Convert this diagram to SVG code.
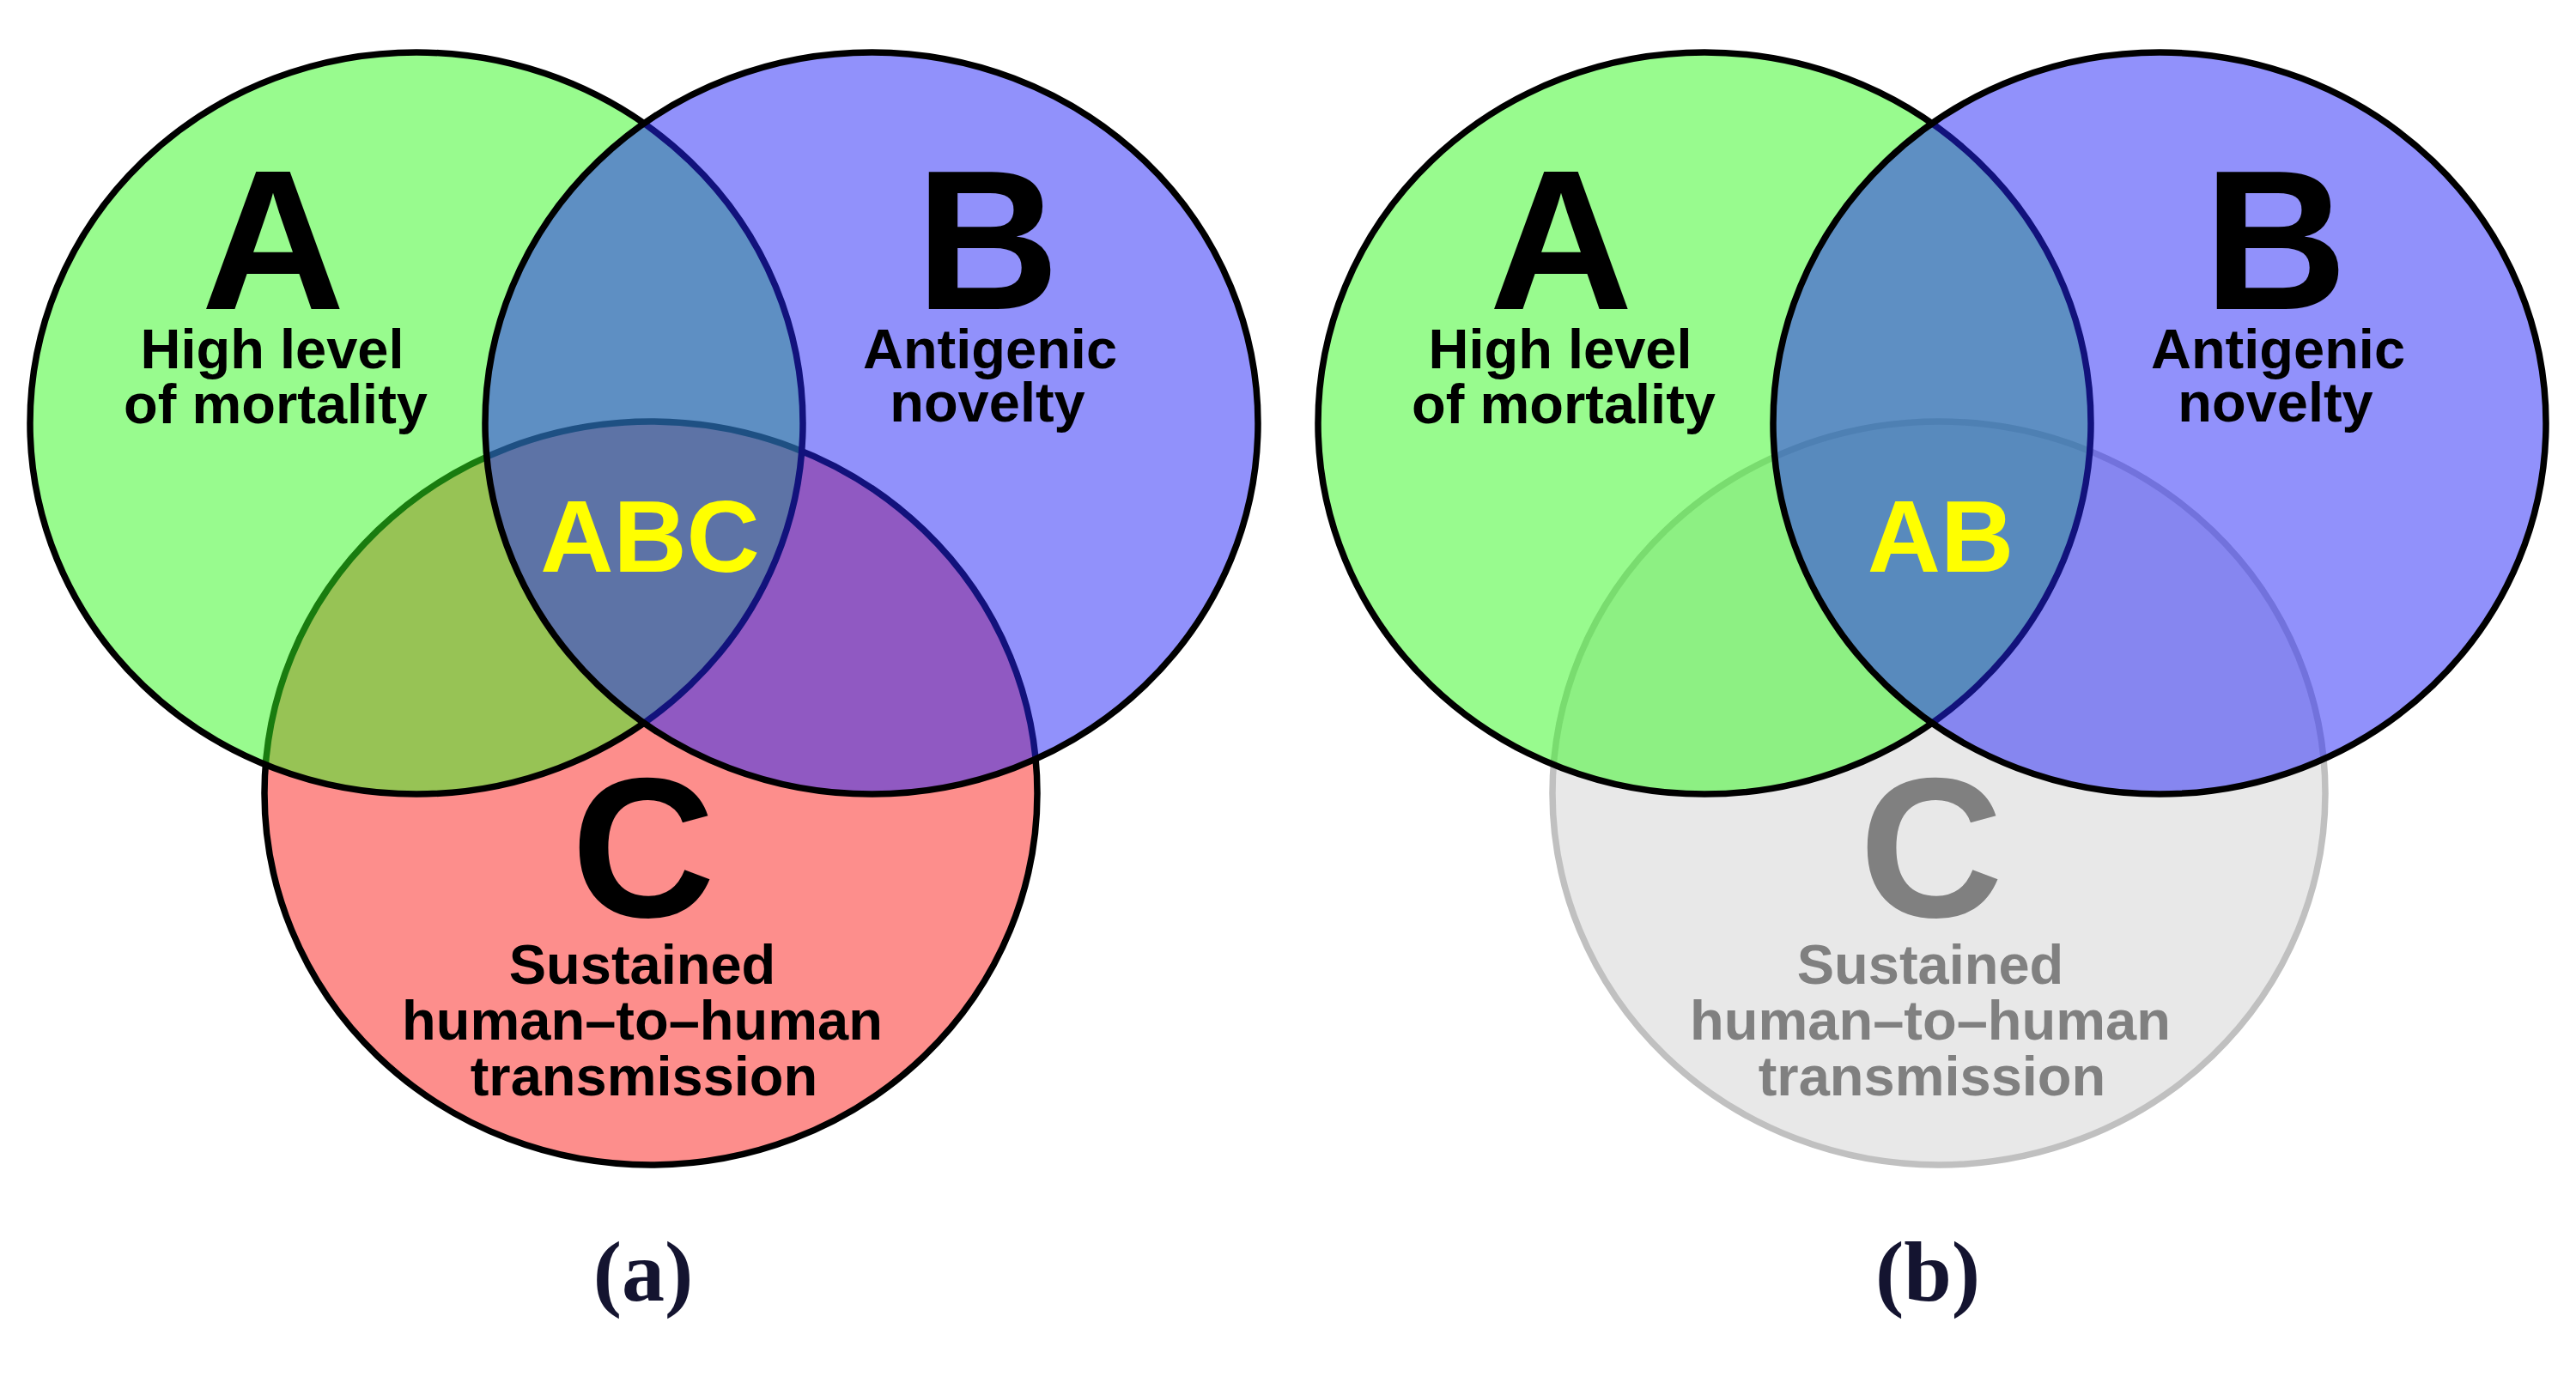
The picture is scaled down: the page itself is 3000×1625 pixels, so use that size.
<svg xmlns="http://www.w3.org/2000/svg" width="3000" height="1625" viewBox="0 0 3000 1625">
<style>
.t{font-family:"Liberation Sans",Arial,sans-serif;font-weight:bold;text-anchor:middle;fill:#000}
.big{font-size:232px}
.d{font-size:65px}
.mid{font-size:118px;fill:#FFFF00}
.grey{fill:#808080}
.cap{font-family:"Liberation Serif","Times New Roman",serif;font-weight:bold;font-size:100px;text-anchor:middle;fill:#141430}
.ea{fill:#31F71D;fill-opacity:.5;stroke:#000;stroke-width:7.5}
.eb{fill:#2323F7;fill-opacity:.5;stroke:#000;stroke-width:7.5}
.ec{fill:#FD8E8C;stroke:#000;stroke-width:7.5}
.ecg{fill:#E8E8E8;stroke:#C0C0C0;stroke-width:7.5}
</style>
<rect width="3000" height="1625" fill="#fff"/>
<g id="panel-a">
  <g id="a-circle-c">
    <ellipse class="ec" cx="758" cy="924" rx="450" ry="433"/>
    <text class="t big" x="749" y="1068">C</text>
    <text class="t d" x="748" y="1146">Sustained</text>
    <text class="t d" x="748" y="1211">human–to–human</text>
    <text class="t d" x="750" y="1276">transmission</text>
  </g>
  <g id="a-circle-a">
    <ellipse class="ea" cx="485" cy="493" rx="450" ry="432"/>
    <text class="t big" x="318" y="360">A</text>
    <text class="t d" x="317" y="429">High level</text>
    <text class="t d" x="321" y="493">of mortality</text>
  </g>
  <g id="a-circle-b">
    <ellipse class="eb" cx="1015" cy="493" rx="450" ry="432"/>
    <text class="t big" x="1150" y="360">B</text>
    <text class="t d" x="1153" y="429">Antigenic</text>
    <text class="t d" x="1150" y="491">novelty</text>
  </g>
  <g id="a-abc">
    <text class="t mid" x="757" y="666">ABC</text>
  </g>
  <g id="a-caption">
    <text class="cap" x="749" y="1515">(a)</text>
  </g>
</g>
<g id="panel-b">
  <g id="b-circle-c">
    <ellipse class="ecg" cx="2258" cy="924" rx="450" ry="433"/>
    <text class="t big grey" x="2249" y="1068">C</text>
    <text class="t d grey" x="2248" y="1146">Sustained</text>
    <text class="t d grey" x="2248" y="1211">human–to–human</text>
    <text class="t d grey" x="2250" y="1276">transmission</text>
  </g>
  <g id="b-circle-a">
    <ellipse class="ea" cx="1985" cy="493" rx="450" ry="432"/>
    <text class="t big" x="1818" y="360">A</text>
    <text class="t d" x="1817" y="429">High level</text>
    <text class="t d" x="1821" y="493">of mortality</text>
  </g>
  <g id="b-circle-b">
    <ellipse class="eb" cx="2515" cy="493" rx="450" ry="432"/>
    <text class="t big" x="2650" y="360">B</text>
    <text class="t d" x="2653" y="429">Antigenic</text>
    <text class="t d" x="2650" y="491">novelty</text>
  </g>
  <g id="b-ab">
    <text class="t mid" x="2260" y="666">AB</text>
  </g>
  <g id="b-caption">
    <text class="cap" x="2245" y="1515">(b)</text>
  </g>
</g>
<g id="connectors"/>
</svg>
